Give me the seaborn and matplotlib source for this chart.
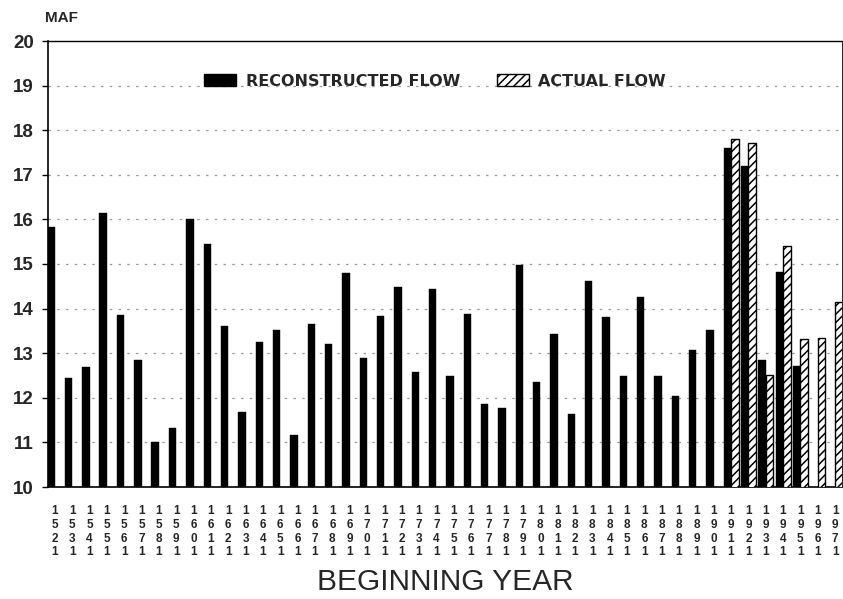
import matplotlib
matplotlib.use("Agg")
import matplotlib.pyplot as plt
from matplotlib.patches import Patch
import pandas as pd
import seaborn as sns

# Decade-average flows (million acre-feet), by beginning year of each decade
years = [str(y) for y in range(1521, 1972, 10)]
recon_years = [str(y) for y in range(1521, 1952, 10)]
recon_flow = [15.83, 12.45, 12.68, 16.15, 13.85, 12.85, 11.00, 11.33,
              16.00, 15.45, 13.62, 11.68, 13.26, 13.53, 11.16, 13.66,
              13.21, 14.80, 12.89, 13.84, 14.49, 12.58, 14.44, 12.48,
              13.89, 11.86, 11.77, 14.98, 12.36, 13.44, 11.64, 14.61,
              13.81, 12.50, 14.26, 12.50, 12.05, 13.08, 13.53, 17.61,
              17.20, 12.85, 14.83, 12.72]
actual_years = ["1911", "1921", "1931", "1941", "1951", "1961", "1971"]
actual_flow = [17.80, 17.72, 12.52, 15.41, 13.31, 13.35, 14.15]
series_names = ["RECONSTRUCTED FLOW", "ACTUAL FLOW"]

df = pd.concat([
    pd.DataFrame({"year": recon_years, "flow": recon_flow, "series": series_names[0]}),
    pd.DataFrame({"year": actual_years, "flow": actual_flow, "series": series_names[1]}),
], ignore_index=True)

sns.set_style("ticks")
plt.rcParams["font.family"] = ["Liberation Sans", "DejaVu Sans"]
plt.rcParams["hatch.linewidth"] = 1.1

W, H = 843, 599
fig = plt.figure(figsize=(W / 100, H / 100), dpi=100)
ax_left, ax_right, ax_top, ax_bottom = 48, 842, 41, 487
ax = fig.add_axes([ax_left / W, 1 - ax_bottom / H,
                   (ax_right - ax_left) / W, (ax_bottom - ax_top) / H])

sns.barplot(data=df, x="year", y="flow", hue="series", order=years,
            hue_order=series_names, palette=["black", "white"],
            dodge=True, width=0.86, gap=0, errorbar=None, legend=False,
            ax=ax, zorder=3)

for bar in ax.containers[0]:
    bar.set_edgecolor("black")
    bar.set_linewidth(0.3)
for bar in ax.containers[1]:
    bar.set_facecolor("white")
    bar.set_edgecolor("black")
    bar.set_hatch("////")
    bar.set_linewidth(1.0)

ax.set_ylim(10, 20)
ax.set_xlim(-0.4, len(years) - 0.6)
ax.set_yticks(range(10, 21))
ax.set_yticklabels([str(v) for v in range(10, 21)],
                   fontsize=13.5, fontweight="bold")
ax.set_xticks(range(len(years)))
ax.set_xticklabels(["\n".join(y) for y in years], fontsize=8.5,
                   fontweight="bold", linespacing=1.2)
ax.tick_params(axis="x", length=0, pad=13)
ax.tick_params(axis="y", length=4, width=1, pad=6, color="black")

for v in range(11, 20):
    ax.axhline(v, color="#9a9a9a", lw=0.9, ls=(0, (2, 5)), zorder=1)

for side in ["left", "bottom", "top", "right"]:
    ax.spines[side].set_visible(True)
    ax.spines[side].set_color("black")
ax.spines["left"].set_linewidth(1.2)
ax.spines["bottom"].set_linewidth(1.2)
ax.spines["top"].set_linewidth(1.0)
ax.spines["right"].set_linewidth(0.6)

ax.set_xlabel("BEGINNING YEAR", fontsize=21.5)
ax.xaxis.set_label_coords(0.5, (ax_bottom - 582) / (ax_bottom - ax_top))
ax.xaxis.label.set_va("center")
ax.set_ylabel("")
fig.text(45 / W, 1 - 18 / H, "MAF", fontsize=11, fontweight="bold",
         ha="left", va="center")

handles = [Patch(facecolor="black", edgecolor="black"),
           Patch(facecolor="white", edgecolor="black", hatch="////")]
leg = ax.legend(handles, series_names, loc="center",
                bbox_to_anchor=((435 - ax_left) / (ax_right - ax_left),
                                (ax_bottom - 81) / (ax_bottom - ax_top)),
                ncol=2, frameon=False, handlelength=2.0, handleheight=0.8,
                handletextpad=0.6, columnspacing=2.3,
                prop={"family": "DejaVu Sans", "weight": "bold", "size": 11.5})

fig.savefig("out.png", dpi=100, facecolor="white")
